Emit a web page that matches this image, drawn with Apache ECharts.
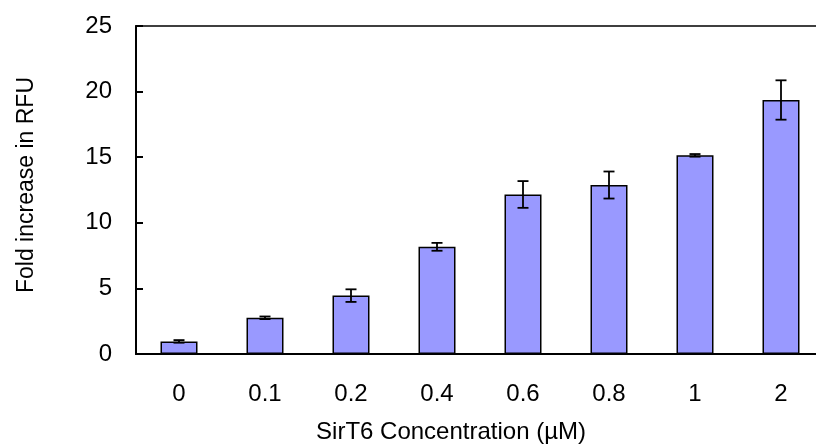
<!DOCTYPE html>
<html lang="en">

<head>
    <meta charset="UTF-8">
    <title>SirT6</title>
    <script src="https://cdn.jsdelivr.net/npm/echarts@6/dist/echarts.min.js"></script>
    <style>
        html, body { margin: 0; padding: 0; background: #fff; }
    </style>
</head>

<body>
    <div id="main" style="width:816px;height:445px;"></div>

    <script>
        var myChart = echarts.init(document.getElementById('main'));

        var categories = ['0', '0.1', '0.2', '0.4', '0.6', '0.8', '1', '2'];
        var means = [0.96, 2.76, 4.45, 8.17, 12.16, 12.88, 15.14, 19.36];
        var errors = [0.1, 0.1, 0.48, 0.3, 1.02, 1.03, 0.1, 1.5];

        var font = 'Liberation Sans, Arial, sans-serif';

        var errData = means.map(function (m, i) {
            return [i, m - errors[i], m + errors[i]];
        });

        var option = {
            backgroundColor: '#ffffff',
            animation: false,
            grid: {
                left: 136,
                top: 26,
                width: 688,
                height: 328,
                show: true,
                borderColor: '#000',
                borderWidth: 1.5,
                containLabel: false,
                outerBoundsMode: 'none'
            },
            xAxis: {
                type: 'category',
                data: categories,
                name: 'SirT6 Concentration (µM)',
                nameLocation: 'middle',
                nameGap: 66,
                // the title sits left of the plot centre (plot runs off the right edge)
                nameTextStyle: { color: '#000', fontSize: 24, fontFamily: font, padding: [0, 58, 0, 0] },
                axisLine: { lineStyle: { color: '#000', width: 2 } },
                axisTick: { inside: true, length: 7, lineStyle: { color: '#000', width: 2 } },
                axisLabel: { color: '#000', fontSize: 24, fontFamily: font, margin: 28 },
                splitLine: { show: false }
            },
            yAxis: {
                type: 'value',
                min: 0,
                max: 25,
                interval: 5,
                name: 'Fold increase in RFU',
                nameLocation: 'middle',
                nameGap: 98,
                nameTextStyle: { color: '#000', fontSize: 23, fontFamily: font, padding: [0, 0, 0, 10] },
                axisLine: { show: true, lineStyle: { color: '#000', width: 2 } },
                axisTick: { show: true, inside: true, length: 7, lineStyle: { color: '#000', width: 2 } },
                axisLabel: { color: '#000', fontSize: 24, fontFamily: font, margin: 24 },
                splitLine: { show: false }
            },
            series: [{
                type: 'bar',
                data: means,
                barWidth: 37,
                itemStyle: {
                    color: '#9999ff',
                    borderColor: '#000',
                    borderWidth: 1.5
                }
            }, {
                type: 'custom',
                data: errData,
                z: 5,
                renderItem: function (params, api) {
                    var x = api.value(0);
                    var lo = api.coord([x, api.value(1)]);
                    var hi = api.coord([x, api.value(2)]);
                    var half = 5.5;
                    var style = { stroke: '#000', lineWidth: 1.8 };
                    return {
                        type: 'group',
                        children: [
                            { type: 'line', shape: { x1: hi[0], y1: hi[1], x2: lo[0], y2: lo[1] }, style: style },
                            { type: 'line', shape: { x1: hi[0] - half, y1: hi[1], x2: hi[0] + half, y2: hi[1] }, style: style },
                            { type: 'line', shape: { x1: lo[0] - half, y1: lo[1], x2: lo[0] + half, y2: lo[1] }, style: style }
                        ]
                    };
                }
            }]
        };
        myChart.setOption(option);
    </script>

</body>

</html>
